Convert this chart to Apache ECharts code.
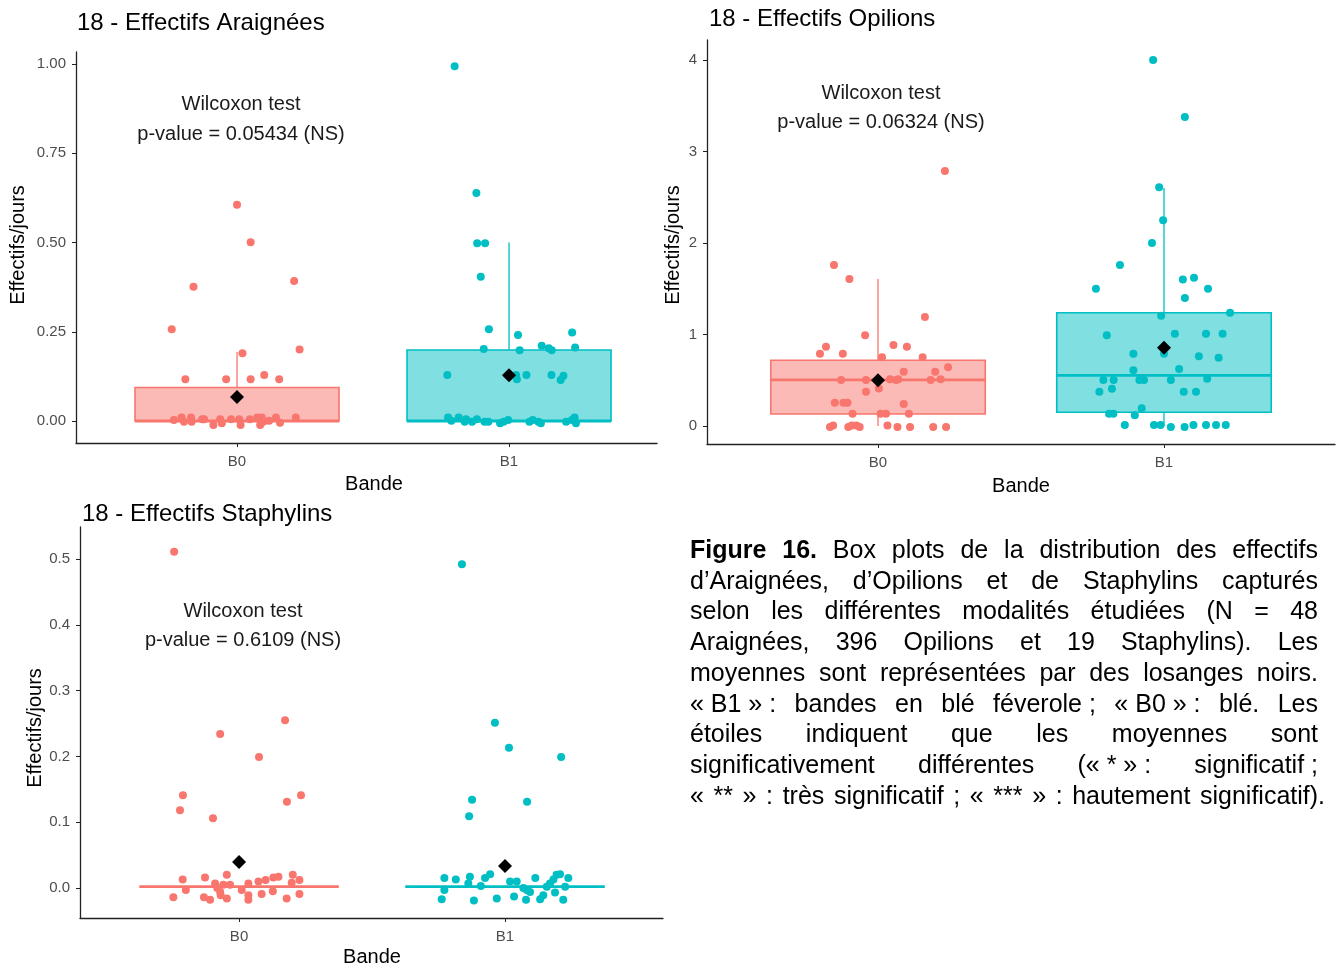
<!DOCTYPE html>
<html><head><meta charset="utf-8">
<script src="https://cdn.jsdelivr.net/npm/echarts@6/dist/echarts.min.js"></script>
<style>html,body{margin:0;padding:0;background:#fff}#c{width:1338px;height:966px}</style>
</head><body><div id="c"></div>
<script>
// ---------- DATA ----------
const categories = ['B0', 'B1'];
const titles = ['18 - Effectifs Araignées', '18 - Effectifs Opilions', '18 - Effectifs Staphylins'];
const pValues = ['p-value = 0.05434 (NS)', 'p-value = 0.06324 (NS)', 'p-value = 0.6109 (NS)'];
const testName = 'Wilcoxon test';
const yTitle = 'Effectifs/jours';
const xTitle = 'Bande';

const araTicks = [0, 0.25, 0.5, 0.75, 1];
const opiTicks = [0, 1, 2, 3, 4];
const staTicks = [0, 0.1, 0.2, 0.3, 0.4, 0.5];

// box stats per group: [q1, median, q3, lowerWhisker, upperWhisker]
const araBox = [[0, 0, 0.094, 0, 0.193], [0, 0, 0.199, 0, 0.50]];
const opiBox = [[0.131, 0.503, 0.718, 0, 1.607], [0.150, 0.554, 1.238, 0, 2.60]];
const staBox = [[0.002, 0.002, 0.002, 0.002, 0.002], [0.002, 0.002, 0.002, 0.002, 0.002]];

const araMeans = [0.067, 0.128];
const opiMeans = [0.499, 0.856];
const staMeans = [0.0395, 0.0334];

// jittered points (x position in category units, y value)
const araB0x = [1.00,1.05,0.84,1.21,0.76,1.23,1.02,0.81,0.96,1.05,1.10,1.155,
  0.768,0.796,0.805,0.831,0.833,0.872,0.879,0.913,0.938,0.944,0.978,1.008,1.013,1.047,1.074,1.085,1.091,1.097,1.118,1.143,1.158,1.216];
const araB0y = [0.606,0.501,0.376,0.392,0.257,0.20,0.19,0.117,0.117,0.117,0.129,0.117,
  0.003,0.010,-0.002,0.010,-0.002,0.005,0.005,-0.011,0.005,-0.006,0.005,0.005,-0.011,0.005,0.010,-0.011,0.010,-0.002,0.001,0.010,-0.005,0.010];
const araB1x = [1.80,1.88,1.883,1.912,1.896,1.926,2.033,2.232,1.907,2.039,2.12,2.146,2.157,2.243,1.773,2.026,2.029,2.064,2.156,2.19,2.2,
  1.776,1.788,1.815,1.837,1.842,1.864,1.882,1.910,1.924,1.967,1.980,1.997,2.075,2.087,2.108,2.117,2.210,2.231,2.241,2.246];
const araB1y = [0.994,0.639,0.498,0.498,0.404,0.257,0.241,0.248,0.202,0.198,0.211,0.204,0.198,0.206,0.129,0.129,0.117,0.129,0.129,0.115,0.127,
  0.010,0.001,0.010,-0.002,0.005,-0.002,0.005,-0.002,-0.002,-0.006,-0.002,0.003,-0.002,0.003,-0.002,-0.006,-0.002,0.003,0.010,-0.006];

const opiB0x = [1.234,0.846,0.90,1.164,0.955,0.818,0.797,0.877,1.054,1.101,1.014,1.156,1.245,1.20,1.09,0.871,0.958,1.042,1.063,1.071,1.184,1.219,1.003,0.958,0.849,0.879,0.893,1.09,0.911,1.009,1.028,1.108,
  0.832,0.843,0.896,0.908,0.925,0.936,1.033,1.068,1.112,1.193,1.238];
const opiB0y = [2.787,1.76,1.607,1.191,0.991,0.867,0.79,0.79,0.885,0.867,0.75,0.75,0.641,0.594,0.594,0.503,0.503,0.51,0.503,0.51,0.503,0.51,0.41,0.375,0.255,0.255,0.255,0.24,0.134,0.134,0.134,0.134,
  -0.01,0.005,-0.01,0.005,0.005,-0.01,0.005,-0.01,-0.01,-0.01,-0.01];
const opiB1x = [1.962,2.073,1.983,1.997,1.958,1.846,1.762,2.066,2.105,2.154,2.073,2.231,1.99,1.80,2.038,2.147,2.205,1.893,2.0,2.122,2.191,1.893,2.053,1.788,1.824,1.914,1.93,2.024,2.151,1.774,1.818,2.069,2.112,1.922,1.808,1.823,1.898,
  1.863,1.965,1.988,2.024,2.072,2.103,2.147,2.182,2.216];
const opiB1y = [4.0,3.377,2.61,2.25,2.0,1.76,1.5,1.6,1.62,1.5,1.40,1.238,1.206,0.991,1.009,1.009,1.009,0.79,0.79,0.762,0.747,0.609,0.623,0.503,0.503,0.503,0.503,0.503,0.517,0.375,0.408,0.375,0.375,0.193,0.134,0.134,0.117,
  0.01,0.01,0.01,-0.01,-0.01,0.01,0.01,0.01,0.01];

const staB0x = [0.756,0.929,1.173,1.075,0.789,0.778,0.902,1.18,1.233,
  0.788,0.80,0.753,0.872,0.868,0.891,0.91,0.918,0.929,0.954,0.941,0.966,0.954,0.931,1.01,1.035,1.035,1.035,1.073,1.085,1.10,1.129,1.148,1.127,1.179,1.202,1.198,1.227,1.227];
const staB0y = [0.511,0.234,0.255,0.199,0.141,0.118,0.106,0.131,0.141,
  0.013,-0.003,-0.014,0.016,-0.014,-0.018,0.007,0.0,-0.006,0.02,0.005,0.005,-0.016,-0.011,-0.003,0.007,-0.011,-0.018,0.01,-0.009,0.012,0.016,0.017,-0.005,-0.016,0.02,0.008,0.012,-0.009];
const staB1x = [1.838,1.962,2.015,2.211,1.876,1.865,2.083,
  1.772,1.772,1.762,1.815,1.868,1.862,1.883,1.909,1.925,1.944,1.969,2.019,2.044,2.034,2.069,2.082,2.079,2.094,2.114,2.132,2.144,2.157,2.169,2.182,2.194,2.207,2.188,2.219,2.238,2.226];
const staB1y = [0.492,0.251,0.213,0.199,0.134,0.109,0.131,
  0.015,-0.003,-0.017,0.013,0.017,0.007,-0.019,0.003,0.015,0.021,-0.016,0.01,0.01,-0.013,0.0,-0.003,-0.018,-0.006,0.015,-0.017,-0.011,0.002,0.007,0.013,0.02,0.021,-0.007,-0.018,0.015,0.002];

const captionLines = [
  ['Figure', '16.', 'Box', 'plots', 'de', 'la', 'distribution', 'des', 'effectifs'],
  ['d’Araignées,', 'd’Opilions', 'et', 'de', 'Staphylins', 'capturés'],
  ['selon', 'les', 'différentes', 'modalités', 'étudiées', '(N', '=', '48'],
  ['Araignées,', '396', 'Opilions', 'et', '19', 'Staphylins).', 'Les'],
  ['moyennes', 'sont', 'représentées', 'par', 'des', 'losanges', 'noirs.'],
  ['«\u00a0B1\u00a0»\u00a0:', 'bandes', 'en', 'blé', 'féverole\u00a0;', '«\u00a0B0\u00a0»\u00a0:', 'blé.', 'Les'],
  ['étoiles', 'indiquent', 'que', 'les', 'moyennes', 'sont'],
  ['significativement', 'différentes', '(«\u00a0*\u00a0»\u00a0:', 'significatif\u00a0;'],
  ['«', '**', '»', ':', 'très', 'significatif', ';', '«', '***', '»', ':', 'hautement', 'significatif).']
];
const captionBoldWords = 2; // "Figure 16." in bold

// ---------- LAYOUT ----------
const FONT = '"Liberation Sans", Arial, Helvetica, sans-serif';
const colors = ['#F8766D', '#00BFC4'];
const fills = ['rgba(248,118,109,0.5)', 'rgba(0,191,196,0.5)'];

const panels = [
  { grid: { left: 76, top: 52, width: 581, height: 391 }, xMin: 0.408, xMax: 2.544, yMin: -0.0616, yMax: 1.0336,
    ticks: araTicks, fmt: v => v.toFixed(2), box: araBox, means: araMeans, pts: [[araB0x, araB0y], [araB1x, araB1y]],
    title: [77, 22], ann: [241, 104, 134], yt: [18, 245], xt: [374, 484] },
  { grid: { left: 707, top: 40, width: 628, height: 404 }, xMin: 0.402, xMax: 2.598, yMin: -0.197, yMax: 4.219,
    ticks: opiTicks, fmt: v => String(Math.round(v)), box: opiBox, means: opiMeans, pts: [[opiB0x, opiB0y], [opiB1x, opiB1y]],
    title: [709, 18], ann: [881, 93, 122], yt: [673, 245], xt: [1021, 486] },
  { grid: { left: 80, top: 527, width: 583, height: 391 }, xMin: 0.402, xMax: 2.594, yMin: -0.0456, yMax: 0.5486,
    ticks: staTicks, fmt: v => v.toFixed(1), box: staBox, means: staMeans, pts: [[staB0x, staB0y], [staB1x, staB1y]],
    title: [82, 513], ann: [243, 611, 640], yt: [35, 728], xt: [372, 957] }
];

const grids = [], xAxes = [], yAxes = [], series = [], graphics = [];
const axisColor = '#222222';

panels.forEach((p, i) => {
  grids.push(Object.assign({ containLabel: false }, p.grid));
  xAxes.push({
    type: 'value', gridIndex: i, min: p.xMin, max: p.xMax,
    axisLine: { show: true, onZero: false, lineStyle: { color: axisColor, width: 1.3 } },
    axisTick: { show: true, length: 4, customValues: [1, 2], lineStyle: { color: axisColor } },
    axisLabel: { customValues: [1, 2], formatter: v => categories[Math.round(v) - 1], color: '#4D4D4D',
      fontSize: 15, fontFamily: FONT, margin: 11 },
    splitLine: { show: false }
  });
  yAxes.push({
    type: 'value', gridIndex: i, min: p.yMin, max: p.yMax,
    axisLine: { show: true, onZero: false, lineStyle: { color: axisColor, width: 1.3 } },
    axisTick: { show: true, length: 4, customValues: p.ticks, lineStyle: { color: axisColor } },
    axisLabel: { customValues: p.ticks, formatter: p.fmt, color: '#4D4D4D', fontSize: 15, fontFamily: FONT, margin: 10 },
    splitLine: { show: false }
  });

  // boxes
  const boxData = p.box.map((b, g) => [g + 1, b[0], b[1], b[2], b[3], b[4], g]);
  series.push({
    type: 'custom', xAxisIndex: i, yAxisIndex: i, z: 1, silent: true,
    data: boxData,
    encode: { x: 0, y: [1, 2, 3, 4, 5] },
    renderItem: function (params, api) {
      const x = api.value(0), q1 = api.value(1), med = api.value(2), q3 = api.value(3), lo = api.value(4), hi = api.value(5);
      const g = api.value(6);
      const hw = 0.375;
      const tl = api.coord([x - hw, q3]), br = api.coord([x + hw, q1]);
      const c = api.coord([x, q3]), cHi = api.coord([x, hi]), cLo = api.coord([x, lo]), cQ1 = api.coord([x, q1]);
      const mL = api.coord([x - hw, med]), mR = api.coord([x + hw, med]);
      const children = [];
      if (hi > q3) children.push({ type: 'line', shape: { x1: c[0], y1: c[1], x2: cHi[0], y2: cHi[1] }, style: { stroke: colors[g], lineWidth: 1.3 } });
      if (lo < q1) children.push({ type: 'line', shape: { x1: cQ1[0], y1: cQ1[1], x2: cLo[0], y2: cLo[1] }, style: { stroke: colors[g], lineWidth: 1.3 } });
      if (q3 > q1) children.push({ type: 'rect', shape: { x: tl[0], y: tl[1], width: br[0] - tl[0], height: br[1] - tl[1] },
        style: { fill: fills[g], stroke: colors[g], lineWidth: 1.6 } });
      children.push({ type: 'line', shape: { x1: mL[0], y1: mL[1], x2: mR[0], y2: mR[1] }, style: { stroke: colors[g], lineWidth: 2.8 } });
      return { type: 'group', children: children };
    }
  });

  // jittered points
  p.pts.forEach((pr, g) => {
    series.push({
      type: 'scatter', xAxisIndex: i, yAxisIndex: i, z: 3, silent: true,
      symbol: 'circle', symbolSize: 8,
      itemStyle: { color: colors[g], opacity: 1 },
      data: pr[0].map((xv, k) => [xv, pr[1][k]])
    });
  });

  // means
  series.push({
    type: 'scatter', xAxisIndex: i, yAxisIndex: i, z: 4, silent: true,
    symbol: 'diamond', symbolSize: [14, 14],
    itemStyle: { color: '#000', opacity: 1 },
    data: p.means.map((m, g) => [g + 1, m])
  });

  // texts
  graphics.push({ type: 'text', x: p.title[0], y: p.title[1] + 1,
    style: { text: titles[i], fill: '#000', font: '24px ' + FONT, align: 'left', verticalAlign: 'middle' } });
  graphics.push({ type: 'text', x: p.ann[0], y: p.ann[1],
    style: { text: testName, fill: '#1a1a1a', font: '20px ' + FONT, align: 'center', verticalAlign: 'middle' } });
  graphics.push({ type: 'text', x: p.ann[0], y: p.ann[2],
    style: { text: pValues[i], fill: '#1a1a1a', font: '20px ' + FONT, align: 'center', verticalAlign: 'middle' } });
  graphics.push({ type: 'text', x: p.yt[0], y: p.yt[1], rotation: Math.PI / 2,
    style: { text: yTitle, fill: '#000', font: '20px ' + FONT, align: 'center', verticalAlign: 'middle' } });
  graphics.push({ type: 'text', x: p.xt[0], y: p.xt[1],
    style: { text: xTitle, fill: '#000', font: '20px ' + FONT, align: 'center', verticalAlign: 'middle' } });
});

// caption (justified)
const CAP_SIZE = 25, CAP_LEFT = 690, CAP_W = 628, CAP_LAST_W = 635, CAP_TOP = 551, CAP_LH = 30.75;
const mctx = document.createElement('canvas').getContext('2d');
function capFont(bold) { return (bold ? 'bold ' : '') + CAP_SIZE + 'px ' + FONT; }
function tw(t, bold) { mctx.font = capFont(bold); return mctx.measureText(t).width; }
captionLines.forEach((words, li) => {
  const bolds = words.map((w, k) => li === 0 && k < captionBoldWords);
  const widths = words.map((w, k) => tw(w, bolds[k]));
  const total = widths.reduce((a, b) => a + b, 0);
  const last = li === captionLines.length - 1;
  const gap = ((last ? CAP_LAST_W : CAP_W) - total) / (words.length - 1);
  let x = CAP_LEFT;
  words.forEach((w, k) => {
    graphics.push({ type: 'text', x: x, y: CAP_TOP + li * CAP_LH,
      style: { text: w, fill: '#000', font: capFont(bolds[k]), align: 'left', verticalAlign: 'middle' } });
    x += widths[k] + gap;
  });
});

const chart = echarts.init(document.getElementById('c'), null, { renderer: 'canvas' });
chart.setOption({
  animation: false,
  backgroundColor: '#fff',
  grid: grids, xAxis: xAxes, yAxis: yAxes, series: series, graphic: graphics
});
</script>
</body></html>
